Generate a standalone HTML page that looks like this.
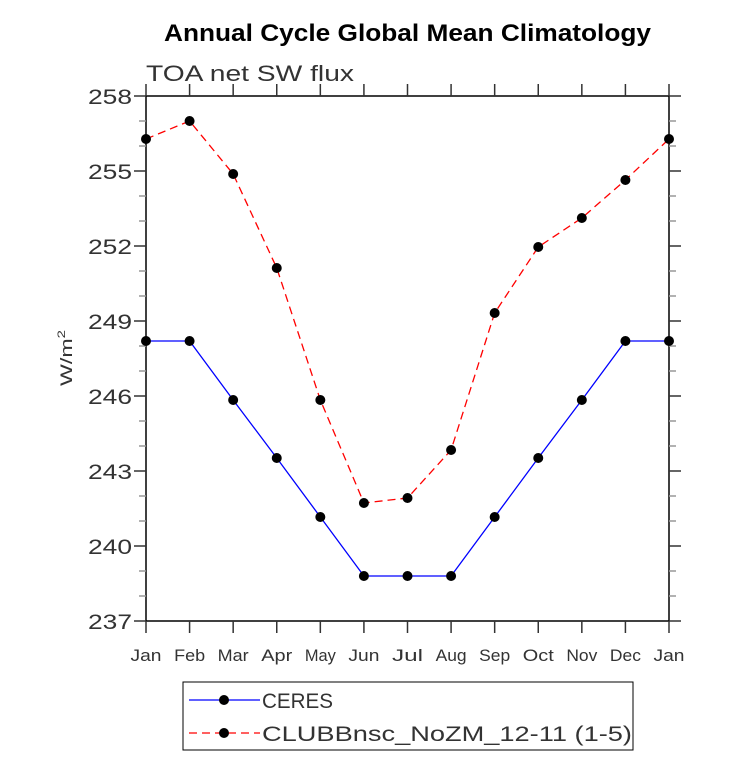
<!DOCTYPE html>
<html><head><meta charset="utf-8"><style>
body{margin:0;background:#fff;}
svg text{font-family:"Liberation Sans",sans-serif;}
</style></head><body>
<svg id="chart" width="733" height="757" xmlns="http://www.w3.org/2000/svg">
<text x="164" y="41" font-size="24" font-weight="bold" textLength="487" lengthAdjust="spacingAndGlyphs">Annual Cycle Global Mean Climatology</text>
<text x="146" y="81" font-size="22" fill="#333" textLength="208" lengthAdjust="spacingAndGlyphs">TOA net SW flux</text>
<text transform="translate(72,358) rotate(-90)" text-anchor="middle" font-size="17" fill="#333" textLength="56" lengthAdjust="spacingAndGlyphs">W/m<tspan dy="-7" font-size="11">2</tspan></text>
<g id="axes"></g>
<g id="series"></g>
<g>
<rect x="183" y="682" width="450" height="68" fill="#fff" stroke="#000" stroke-width="1"/>
<line x1="189" y1="700" x2="260" y2="700" stroke="#00f" stroke-width="1.3"/>
<circle cx="224" cy="700" r="5" fill="#000"/>
<text x="262" y="708" font-size="21" fill="#333" textLength="71" lengthAdjust="spacingAndGlyphs">CERES</text>
<line x1="189" y1="733" x2="260" y2="733" stroke="#f00" stroke-width="1.3" stroke-dasharray="8,5"/>
<circle cx="224" cy="733" r="5" fill="#000"/>
<text x="262" y="741" font-size="21" fill="#333" textLength="370" lengthAdjust="spacingAndGlyphs">CLUBBnsc_NoZM_12-11 (1-5)</text>
</g>
</svg>
<script>
const months = ["Jan","Feb","Mar","Apr","May","Jun","Jul","Aug","Sep","Oct","Nov","Dec","Jan"];
const ceres = [248.2,248.2,245.84,243.52,241.16,238.8,238.8,238.8,241.16,243.52,245.84,248.2,248.2];
const clubb = [256.28,257.0,254.88,251.12,245.84,241.72,241.92,243.84,249.32,251.96,253.12,254.64,256.28];
const yTicks = [237,240,243,246,249,252,255,258];
const NS="http://www.w3.org/2000/svg";
const L=146,R=669,T=96,B=621,ymin=237,ymax=258;
const xs=i=>L+(R-L)*i/(months.length-1);
const ys=v=>B-(v-ymin)/(ymax-ymin)*(B-T);
function mk(tag,attrs,parent){const e=document.createElementNS(NS,tag);for(const k in attrs)e.setAttribute(k,attrs[k]);parent.appendChild(e);return e;}
const ax=document.getElementById('axes');
const frame=mk('rect',{x:L,y:T,width:R-L,height:B-T,fill:'none',stroke:'#000','stroke-width':1.5},ax);


for(let v=ymin;v<=ymax;v++){
  const major=yTicks.includes(v);const len=major?12:7;const y=ys(v);
  mk('line',{x1:L-len,y1:y,x2:L,y2:y,stroke:major?'#333':'#999','stroke-width':1.5},ax);
  mk('line',{x1:R,y1:y,x2:R+len,y2:y,stroke:major?'#333':'#999','stroke-width':1.5},ax);
}
yTicks.forEach(v=>{
  const t=mk('text',{x:L-2-12,y:ys(v)+8,'text-anchor':'end','font-size':21,fill:'#333',textLength:44,lengthAdjust:'spacingAndGlyphs'},ax);
  t.textContent=v;
  
  
});
months.forEach((m,i)=>{
  const x=xs(i);
  mk('line',{x1:x,y1:B,x2:x,y2:B+12,stroke:'#333','stroke-width':1.5},ax);
  mk('line',{x1:x,y1:T-12,x2:x,y2:T,stroke:'#333','stroke-width':1.5},ax);
  const t=mk('text',{x:x,y:B+40,'text-anchor':'middle','font-size':17,fill:'#333',textLength:31,lengthAdjust:'spacingAndGlyphs'},ax);
  t.textContent=m;
  
  
});
const sg=document.getElementById('series');
function drawSeries(vals,color,dash,name){
  const g=mk('g',{},sg);
  
  
  const pts=vals.map((v,i)=>xs(i)+','+ys(v)).join(' ');
  const a={points:pts,fill:'none',stroke:color,'stroke-width':1.3};
  if(dash)a['stroke-dasharray']=dash;
  mk('polyline',a,g);
  vals.forEach((v,i)=>{
    const c=mk('circle',{cx:xs(i),cy:ys(v),r:5,fill:'#000'},g);
    
    
  });
}
drawSeries(ceres,'#00f',null,'ceres-series');
drawSeries(clubb,'#f00','8,5','clubb-series');
</script>
</body></html>
